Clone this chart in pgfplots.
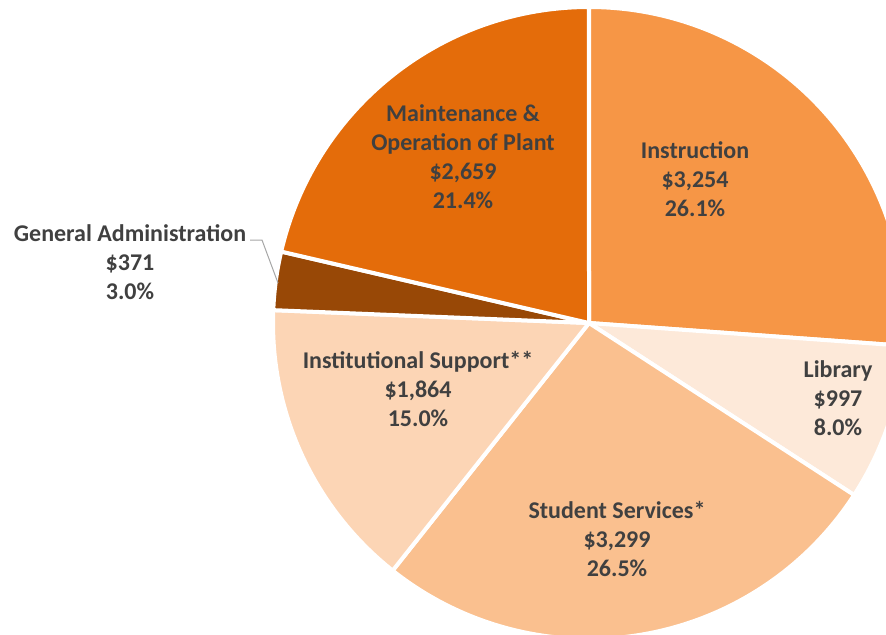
\documentclass[border=0pt]{standalone}
\usepackage{fontspec}
\setmainfont{Carlito}
\usepackage{pgfplots}
\usepackage{pgfplotstable}
\pgfplotsset{compat=1.18}

\definecolor{cInstr}{RGB}{246,150,70}
\definecolor{cLib}{RGB}{253,233,217}
\definecolor{cStud}{RGB}{250,192,143}
\definecolor{cInst}{RGB}{252,213,181}
\definecolor{cGen}{RGB}{152,72,6}
\definecolor{cMaint}{RGB}{228,108,10}
\definecolor{txt}{RGB}{64,64,64}

\tikzset{lbl/.style={align=center, text=txt, inner sep=0pt,
    font=\fontsize{12}{14.5}\selectfont\bfseries}}

% slices clockwise from 12 o'clock
\pgfplotstableread[col sep=comma]{
value,colour
3254,cInstr
997,cLib
3299,cStud
1864,cInst
371,cGen
2659,cMaint
}\piedata

\begin{document}%
\begin{tikzpicture}
\def\total{0}
\pgfplotsforeachungrouped \i in {0,...,5}{%
  \pgfplotstablegetelem{\i}{value}\of\piedata
  \pgfmathsetmacro\total{\total+\pgfplotsretval}}
\begin{axis}[
  x=0.5pt, y=0.5pt,
  xmin=0, xmax=886, ymin=0, ymax=634,
  hide axis, clip=true,
]
\def\cur{90}
\pgfplotsforeachungrouped \i in {0,...,5}{%
  \pgfplotstablegetelem{\i}{value}\of\piedata \let\v=\pgfplotsretval
  \pgfplotstablegetelem{\i}{colour}\of\piedata \let\c=\pgfplotsretval
  \pgfmathsetmacro\nxt{\cur-360*(\v/\total)}
  \edef\temp{\noexpand\fill[\c, draw=white, line width=2pt, line join=round]
    (axis cs:589,311) -- ++(\cur:158pt)
    arc[start angle=\cur, end angle=\nxt, radius=158pt] -- cycle;}
  \temp
  \let\cur=\nxt
}
\node[lbl] at (axis cs:695,455) {Instruction\\\$3,254\\26.1\%};
\node[lbl] at (axis cs:838,236) {Library\\\$997\\8.0\%};
\node[lbl] at (axis cs:617,95) {Student Services*\\\$3,299\\26.5\%};
\node[lbl] at (axis cs:418,245) {Institutional Support**\\\$1,864\\15.0\%};
\node[lbl] at (axis cs:130,372) {General Administration\\\$371\\3.0\%};
\node[lbl] at (axis cs:463,477) {Maintenance \&\\Operation of Plant\\\$2,659\\21.4\%};
\draw[gray!70, line width=0.5pt] (axis cs:250,394) -- (axis cs:262,394) -- (axis cs:278,351);
\coordinate (bl) at (axis cs:0,0);
\coordinate (tr) at (axis cs:886,634);
\end{axis}
\pgfresetboundingbox
\useasboundingbox (bl) rectangle (tr);
\end{tikzpicture}%
\end{document}
